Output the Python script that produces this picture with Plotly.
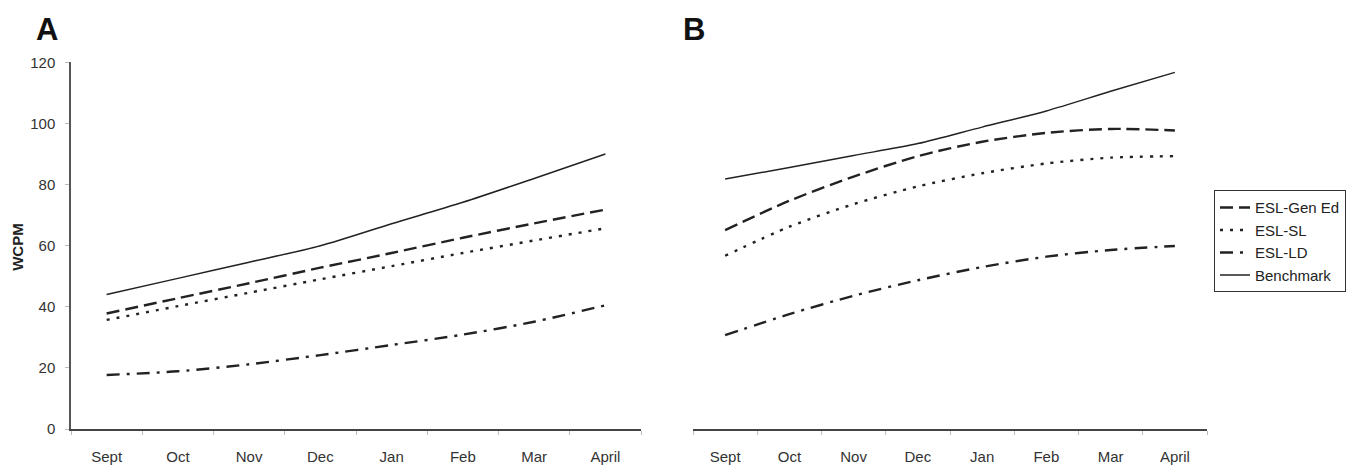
import plotly.graph_objects as go

months = ["Sept", "Oct", "Nov", "Dec", "Jan", "Feb", "Mar", "April"]

# Panel A
a_gen_ed = [37.8, 42.8, 47.7, 52.8, 57.6, 62.6, 67.3, 71.8]
a_sl = [35.7, 40.2, 44.6, 49.0, 53.3, 57.6, 61.7, 65.7]
a_ld = [17.7, 18.9, 21.2, 24.2, 27.5, 30.9, 35.1, 40.5]
a_bench = [44.0, 49.3, 54.6, 60.0, 67.2, 74.2, 82.0, 90.0]

# Panel B
b_gen_ed = [65.1, 74.7, 82.6, 89.3, 94.0, 96.9, 98.2, 97.7]
b_sl = [56.7, 66.2, 73.6, 79.4, 83.7, 86.9, 88.8, 89.3]
b_ld = [30.7, 37.6, 43.6, 48.7, 53.0, 56.4, 58.6, 59.9]
b_bench = [81.8, 85.6, 89.5, 93.4, 98.8, 104.1, 110.5, 116.7]

series_names = ["ESL-Gen Ed", "ESL-SL", "ESL-LD", "Benchmark"]
y_ticks = [0, 20, 40, 60, 80, 100, 120]

W, H = 1358, 473
styles = {
    "ESL-Gen Ed": dict(dash="13px,6px", width=2.4),
    "ESL-SL": dict(dash="3px,7px", width=2.4),
    "ESL-LD": dict(dash="13px,7px,3px,7px", width=2.4),
    "Benchmark": dict(dash="solid", width=1.5),
}
line_color = "#222222"
FONT = "Liberation Sans, Arial, sans-serif"

fig = go.Figure()
for panel, data, xa, ya, show in [
    ("A", [a_gen_ed, a_sl, a_ld, a_bench], "x", "y", False),
    ("B", [b_gen_ed, b_sl, b_ld, b_bench], "x2", "y2", True),
]:
    for name, vals in zip(series_names, data):
        st = styles[name]
        fig.add_trace(go.Scatter(
            x=months, y=vals, name=name, mode="lines",
            line=dict(color=line_color, width=st["width"], dash=st["dash"],
                      shape="spline", smoothing=0.8),
            xaxis=xa, yaxis=ya, showlegend=show,
        ))

def px_x(p):
    return p / W

def px_y(p):
    return 1 - p / H

ydom = [px_y(435.7), px_y(55.3)]
tickfont = dict(family=FONT, size=15, color="#333333")

xcommon = dict(
    type="category", categoryorder="array", categoryarray=months,
    range=[-0.5, 7.5], tickson="boundaries", ticks="outside", ticklen=4,
    tickcolor="#bbbbbb", tickwidth=1, showline=True, linecolor="#444444",
    linewidth=1.5, showgrid=False, zeroline=False, tickfont=tickfont,
    ticklabelstandoff=13,
)

fig.update_layout(
    width=W, height=H,
    margin=dict(l=0, r=0, t=0, b=0),
    paper_bgcolor="white", plot_bgcolor="white",
    xaxis=dict(domain=[px_x(71), px_x(641)], anchor="y", **xcommon),
    xaxis2=dict(domain=[px_x(693), px_x(1207)], anchor="y2", **xcommon),
    yaxis=dict(domain=ydom, anchor="x", range=[0, 120], tickvals=y_ticks,
               ticks="outside", ticklen=4, tickcolor="#bbbbbb",
               showline=True, linecolor="#555555", linewidth=1.5,
               showgrid=False, zeroline=False, tickfont=tickfont,
               ticklabelstandoff=7),
    yaxis2=dict(domain=ydom, anchor="x2", range=[0, 120], visible=False),
    legend=dict(
        x=px_x(1214), y=px_y(188), xanchor="left", yanchor="top",
        bordercolor="#333333", borderwidth=1, bgcolor="white",
        font=dict(family=FONT, size=15, color="#222222"),
        tracegroupgap=0, itemwidth=30,
    ),
    annotations=[
        dict(text="<b>A</b>", x=px_x(46.5), y=px_y(21.5), xref="paper", yref="paper",
             showarrow=False, xanchor="center", yanchor="middle",
             font=dict(family=FONT, size=31, color="#111111")),
        dict(text="<b>B</b>", x=px_x(693.5), y=px_y(21.5), xref="paper", yref="paper",
             showarrow=False, xanchor="center", yanchor="middle",
             font=dict(family=FONT, size=31, color="#111111")),
        dict(text="<b>WCPM</b>", x=px_x(18), y=px_y(246.7), xref="paper", yref="paper",
             showarrow=False, xanchor="center", yanchor="middle", textangle=-90,
             font=dict(family=FONT, size=15, color="#222222")),
    ],
)

fig.write_html("out.html")
